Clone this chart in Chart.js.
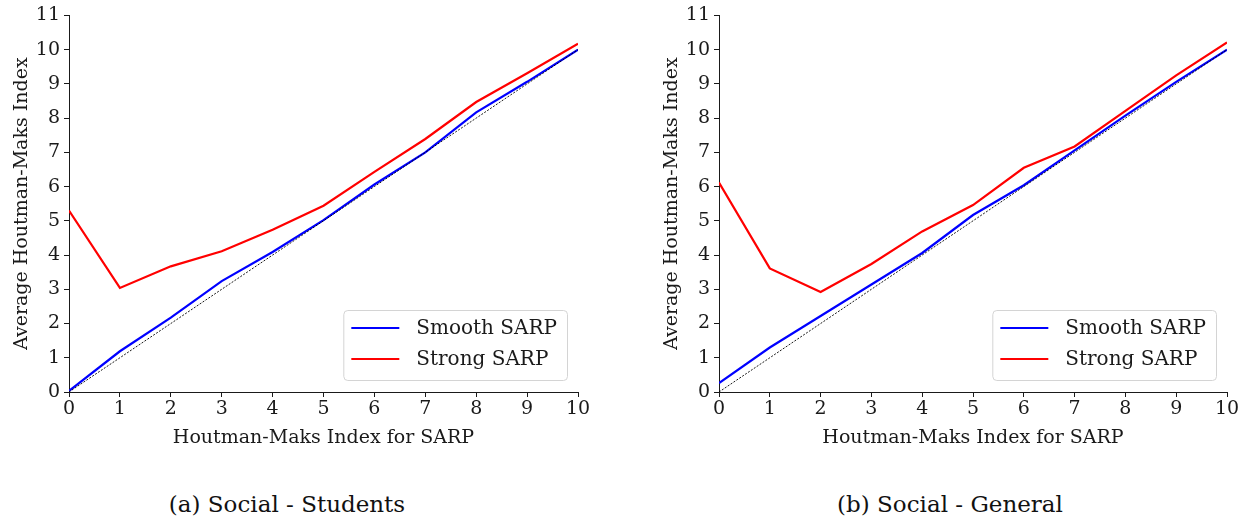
<!DOCTYPE html>
<html>
<head>
<meta charset="utf-8">
<script src="https://cdn.jsdelivr.net/npm/chart.js@4.4.1/dist/chart.umd.min.js"></script>
<style>
  html, body { margin: 0; padding: 0; background: #fff; }
  body { width: 1247px; height: 520px; position: relative; overflow: hidden; }
  .panel { position: absolute; top: 0; height: 470px; }
  .caption { position: absolute; top: 491px; font-family: "DejaVu Serif", "Liberation Serif", serif; font-size: 23px; color: #111; transform: translateX(-50%); white-space: nowrap; }
</style>
</head>
<body>
<div class="panel" style="left:0px;width:630px"><canvas id="chartA"></canvas></div>
<div class="panel" style="left:650px;width:597px"><canvas id="chartB"></canvas></div>
<div class="caption" style="left:287px">(a) Social - Students</div>
<div class="caption" style="left:950px">(b) Social - General</div>
<script>
// Houtman-Maks index for SARP (x axis)
const hmIndex = [0, 1, 2, 3, 4, 5, 6, 7, 8, 9, 10];
// 45-degree reference line
const diagonal = [0, 1, 2, 3, 4, 5, 6, 7, 8, 9, 10];

// (a) Social - Students
const studentsSmooth = [0.03, 1.19, 2.17, 3.24, 4.09, 5.02, 6.06, 7.00, 8.17, 9.06, 10.00];
const studentsStrong = [5.30, 3.04, 3.67, 4.11, 4.74, 5.44, 6.43, 7.39, 8.47, 9.31, 10.17];

// (b) Social - General
const generalSmooth = [0.26, 1.30, 2.22, 3.14, 4.06, 5.17, 6.04, 7.06, 8.07, 9.06, 10.00];
const generalStrong = [6.12, 3.61, 2.92, 3.74, 4.69, 5.46, 6.55, 7.17, 8.21, 9.25, 10.21];

const yTicks = [0, 1, 2, 3, 4, 5, 6, 7, 8, 9, 10, 11];
const xTicks = [0, 1, 2, 3, 4, 5, 6, 7, 8, 9, 10];

const FONT = '"DejaVu Serif", "Liberation Serif", serif';
const INK = '#1a1a1a';

const toPoints = (ys) => ys.map((y, i) => ({ x: hmIndex[i], y }));

// Legend box in the lower right corner of the plot area
const cornerLegend = {
  id: 'cornerLegend',
  afterDatasetsDraw(chart) {
    const { ctx, chartArea } = chart;
    const items = chart.data.datasets.filter(d => d.label);
    ctx.save();
    ctx.font = '20px ' + FONT;
    const textW = Math.max(...items.map(d => ctx.measureText(d.label).width));
    const w = 73 + textW + 10;
    const h = 70;
    const x0 = chartArea.right - 11 - w;
    const y0 = chartArea.bottom - 12 - h;
    ctx.beginPath();
    ctx.roundRect(x0 + 0.5, y0 + 0.5, w, h, 4);
    ctx.fillStyle = 'rgba(255,255,255,0.85)';
    ctx.fill();
    ctx.strokeStyle = '#d4d4d4';
    ctx.lineWidth = 1;
    ctx.stroke();
    items.forEach((d, i) => {
      const cy = y0 + 18 + i * 31;
      ctx.beginPath();
      ctx.moveTo(x0 + 8, cy);
      ctx.lineTo(x0 + 56, cy);
      ctx.strokeStyle = d.borderColor;
      ctx.lineWidth = 2;
      ctx.stroke();
      ctx.fillStyle = INK;
      ctx.textBaseline = 'middle';
      ctx.textAlign = 'left';
      ctx.fillText(d.label, x0 + 73, cy + 1);
    });
    ctx.restore();
  }
};

function makeChart(id, smooth, strong, rightPad) {
  return new Chart(document.getElementById(id), {
    type: 'line',
    data: {
      datasets: [
        { label: 'Smooth SARP', data: toPoints(smooth), borderColor: '#0000ff', borderWidth: 2.2, pointRadius: 0, tension: 0, order: 2 },
        { label: 'Strong SARP', data: toPoints(strong), borderColor: '#ff0000', borderWidth: 2.2, pointRadius: 0, tension: 0, order: 3 },
        { label: '', data: toPoints(diagonal), borderColor: '#000000', borderWidth: 0.9, borderDash: [2, 1.5], pointRadius: 0, tension: 0, order: 1 }
      ]
    },
    options: {
      responsive: true,
      maintainAspectRatio: false,
      animation: false,
      layout: { padding: { top: 12, right: rightPad, bottom: 0, left: 0 } },
      plugins: { legend: { display: false }, tooltip: { enabled: false } },
      scales: {
        x: {
          type: 'linear', min: 0, max: 10,
          afterFit(scale) { scale.height = 78; },
          afterBuildTicks(scale) { scale.ticks = xTicks.map(v => ({ value: v })); },
          grid: { drawOnChartArea: false, drawTicks: true, tickLength: 5, color: INK, lineWidth: 1 },
          border: { display: true, color: INK, width: 1 },
          ticks: { color: INK, font: { family: FONT, size: 19 }, padding: 1, maxRotation: 0 },
          title: { display: true, text: 'Houtman-Maks Index for SARP', color: INK, font: { family: FONT, size: 19 }, padding: { top: 0, bottom: 21 } }
        },
        y: {
          type: 'linear', min: 0, max: 11,
          afterFit(scale) { scale.width = 69; },
          afterBuildTicks(scale) { scale.ticks = yTicks.map(v => ({ value: v })); },
          grid: { drawOnChartArea: false, drawTicks: true, tickLength: 5, color: INK, lineWidth: 1 },
          border: { display: true, color: INK, width: 1 },
          ticks: { color: INK, font: { family: FONT, size: 19 }, padding: 4 },
          title: { display: true, text: 'Average Houtman-Maks Index', color: INK, font: { family: FONT, size: 19 }, padding: { top: 11, bottom: 0 } }
        }
      }
    },
    plugins: [cornerLegend]
  });
}

makeChart('chartA', studentsSmooth, studentsStrong, 630 - 578);
makeChart('chartB', generalSmooth, generalStrong, 597 - 577);
</script>
</body>
</html>
